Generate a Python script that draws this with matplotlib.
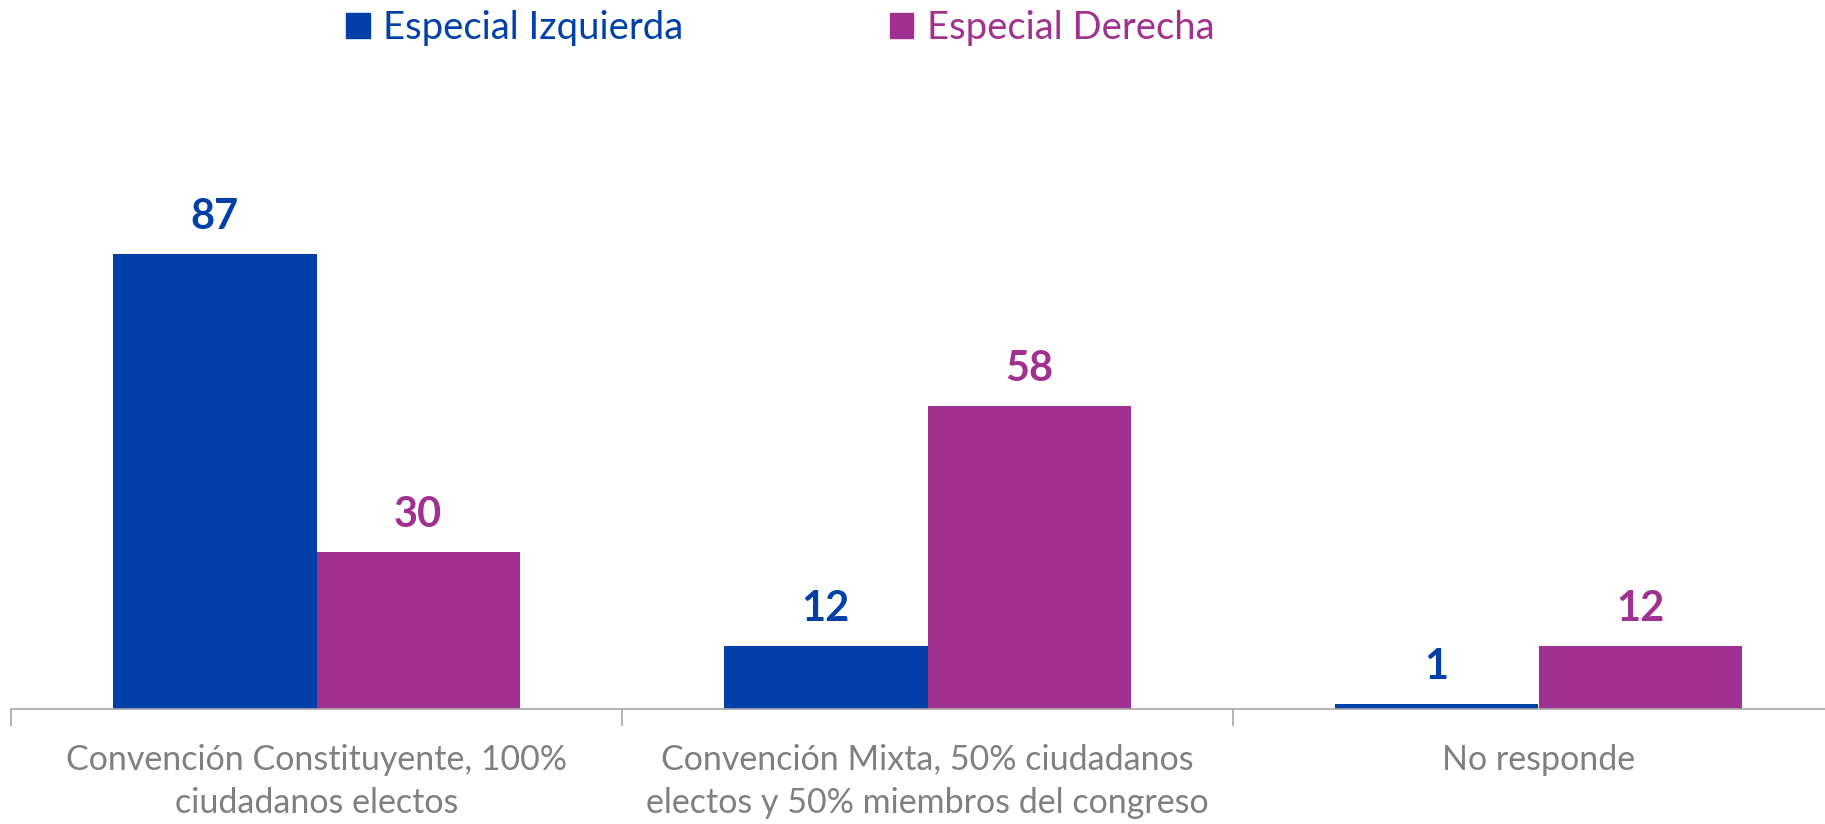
import matplotlib; matplotlib.use('Agg')
import numpy as np
import matplotlib.pyplot as plt
from matplotlib.patches import Patch

plt.rcParams['font.family'] = ['Lato', 'DejaVu Sans']

categories = ['Convención Constituyente, 100%\nciudadanos electos',
              'Convención Mixta, 50% ciudadanos\nelectos y 50% miembros del congreso',
              'No responde']
izquierda = [87, 12, 1]
derecha = [30, 58, 12]
series_names = ['Especial Izquierda', 'Especial Derecha']

BLUE = '#0040A8'
PURPLE = '#A03190'
GRAY_TXT = '#7F7F7F'
AXIS_GRAY = '#A6A6A6'

fig = plt.figure(figsize=(18.25, 8.24), dpi=100)
ax = fig.add_axes([11/1825, 115/824, 1833/1825, 523/824])

x = np.arange(len(categories))
w = 0.333
b1 = ax.bar(x - w/2, izquierda, w, color=BLUE)
b2 = ax.bar(x + w/2, derecha, w, color=PURPLE)

for bars, vals, col in [(b1, izquierda, BLUE), (b2, derecha, PURPLE)]:
    for rect, v in zip(bars, vals):
        ax.annotate(f'{v}', (rect.get_x() + rect.get_width()/2, v),
                    xytext=(0, 13), textcoords='offset points',
                    ha='center', va='bottom', fontsize=30, fontweight='bold', color=col)

ax.set_xlim(-0.5, 2.5)
ax.set_ylim(0, 100)
ax.set_yticks([])
for s in ['top', 'right', 'left']:
    ax.spines[s].set_visible(False)
ax.spines['bottom'].set_color(AXIS_GRAY)
ax.spines['bottom'].set_linewidth(1.2)

ax.set_xticks(x)
ax.set_xticklabels(categories, fontsize=24.5, color=GRAY_TXT, linespacing=1.45)
ax.tick_params(axis='x', which='major', length=0, pad=25)
ax.set_xticks([-0.5, 0.5, 1.5, 2.5], minor=True)
ax.tick_params(axis='x', which='minor', length=12, width=1.2, color=AXIS_GRAY, direction='out')

handles = [Patch(color=BLUE), Patch(color=PURPLE)]
leg = fig.legend(handles, series_names, loc='upper left', bbox_to_anchor=(346/1825, 1 - 10/824),
                 ncol=2, frameon=False, fontsize=27.5, handlelength=0.62, handleheight=0.62,
                 handletextpad=0.35, columnspacing=5.4, borderpad=0, borderaxespad=0)
for t, c in zip(leg.get_texts(), [BLUE, PURPLE]):
    t.set_color(c)

fig.savefig('out.png', dpi=100)
